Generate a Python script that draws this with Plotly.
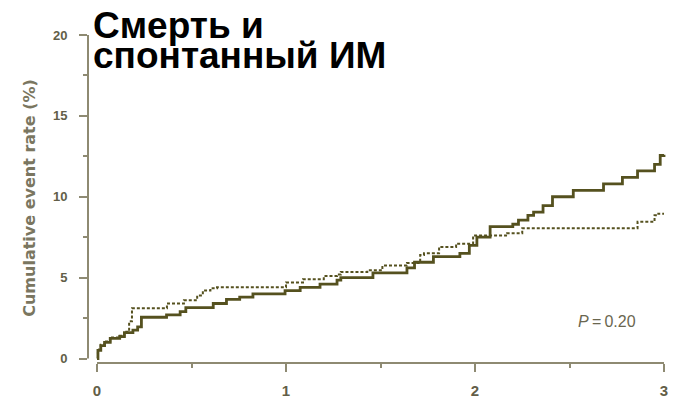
import plotly.graph_objects as go

# Solid curve (step points: time in years, cumulative event rate %)
solid_t = [0, 0.005, 0.02, 0.04, 0.07, 0.12, 0.145, 0.19, 0.215, 0.235, 0.368, 0.44, 0.47,
           0.615, 0.685, 0.755, 0.825, 0.995, 1.075, 1.18, 1.27, 1.29, 1.46, 1.64, 1.68,
           1.78, 1.92, 1.97, 2.01, 2.08, 2.2, 2.23, 2.28, 2.31, 2.36, 2.41, 2.52, 2.68,
           2.78, 2.86, 2.95, 2.98, 3.0]
solid_v = [0, 0.5, 0.8, 1.0, 1.25, 1.35, 1.6, 1.75, 1.95, 2.55, 2.7, 2.9, 3.15,
           3.4, 3.65, 3.8, 4.0, 4.2, 4.4, 4.6, 4.85, 5.0, 5.3, 5.6, 5.95,
           6.3, 6.5, 7.0, 7.5, 8.15, 8.3, 8.55, 8.85, 9.05, 9.45, 10.0, 10.4, 10.8,
           11.2, 11.6, 12.0, 12.55, 12.6]

# Dotted curve
dot_t = [0, 0.005, 0.02, 0.04, 0.07, 0.12, 0.145, 0.17, 0.185, 0.37, 0.46, 0.53, 0.56,
         0.6, 0.635, 1.0, 1.09, 1.2, 1.27, 1.29, 1.43, 1.51, 1.64, 1.71, 1.73, 1.81,
         1.9, 1.99, 2.17, 2.25, 2.86, 2.95, 2.97, 3.0]
dot_v = [0, 0.55, 0.85, 1.05, 1.3, 1.4, 1.65, 2.3, 3.1, 3.4, 3.6, 3.9, 4.2,
         4.35, 4.4, 4.7, 4.9, 5.1, 5.2, 5.35, 5.45, 5.75, 5.9, 6.4, 6.5, 6.9,
         7.1, 7.6, 7.75, 8.05, 8.45, 8.85, 8.95, 8.95]

x_ticks = [0, 1, 2, 3]
y_ticks = [0, 5, 10, 15, 20]
title_lines = ["Смерть и", "спонтанный ИМ"]
y_title = "Cumulative event rate (%)"
p_text = "<i>P</i>\u2009=\u20090.20"

LINE = "#55511f"
AXIS = "#8e8a72"
LABEL = "#625e48"

fig = go.Figure()
fig.add_trace(go.Scatter(x=dot_t, y=dot_v, mode="lines", line_shape="hv",
                         line=dict(color=LINE, width=2, dash="3px,2px"),
                         hoverinfo="skip", showlegend=False))
fig.add_trace(go.Scatter(x=solid_t, y=solid_v, mode="lines", line_shape="hv",
                         line=dict(color=LINE, width=2.8),
                         hoverinfo="skip", showlegend=False))

L, R, T, B = 88, 13, 33, 40.5
W = 681 - L - R
H = 404 - T - B

fig.update_layout(
    width=681, height=404,
    margin=dict(l=L, r=R, t=T, b=B, pad=0, autoexpand=False),
    plot_bgcolor="white", paper_bgcolor="white",
    xaxis=dict(range=[-9 / 189, 3 + 4 / 189], showgrid=False, zeroline=False,
               automargin=False,
               showline=False, tickvals=x_ticks, ticks="outside", ticklen=8,
               tickwidth=2, tickcolor=AXIS, ticklabelstandoff=6,
               tickfont=dict(family="Liberation Sans", size=15, color=LABEL, weight="bold"),
               minor=dict(tickvals=[0.5, 1.5, 2.5], ticks="outside", ticklen=4,
                          tickwidth=2, tickcolor=AXIS)),
    yaxis=dict(range=[-4.5 / 16.2, 20 + 2 / 16.2], showgrid=False, zeroline=False,
               automargin=False,
               showline=False, tickvals=y_ticks, ticks="outside", ticklen=8,
               tickwidth=2, tickcolor=AXIS, ticklabelstandoff=9,
               tickfont=dict(family="Liberation Sans", size=13, color=LABEL, weight="bold"),
               minor=dict(tickvals=[2.5, 7.5, 12.5, 17.5], ticks="outside", ticklen=4,
                          tickwidth=2, tickcolor=AXIS),
               title=dict(text=y_title, standoff=13,
                          font=dict(family="DejaVu Sans", size=16, color="#7a7660",
                                    weight="bold"))),
)

fig.add_shape(type="line", xref="paper", yref="y", x0=0, x1=0, y0=0, y1=20,
              line=dict(color=AXIS, width=2))
fig.add_shape(type="line", xref="x", yref="paper", x0=0, x1=3, y0=0, y1=0,
              line=dict(color=AXIS, width=2))


def px_x(px):
    return (px - L) / W


def px_y(py):
    return (404 - B - py) / H


for i, (line_txt, cy) in enumerate(zip(title_lines, [25, 56])):
    fig.add_annotation(text="<b>%s</b>" % line_txt, xref="paper", yref="paper",
                       x=px_x(91), y=px_y(cy), xanchor="left", yanchor="middle",
                       showarrow=False,
                       font=dict(family="Liberation Sans", size=37, color="black"))

fig.add_annotation(text=p_text, xref="paper", yref="paper",
                   x=px_x(607), y=px_y(322), xanchor="center", yanchor="middle",
                   showarrow=False,
                   font=dict(family="Liberation Sans", size=16, color="#6a664f"))

fig.write_html("out.html", config={"displayModeBar": False},
               post_script="document.body.style.margin='0';document.body.style.padding='0';")
